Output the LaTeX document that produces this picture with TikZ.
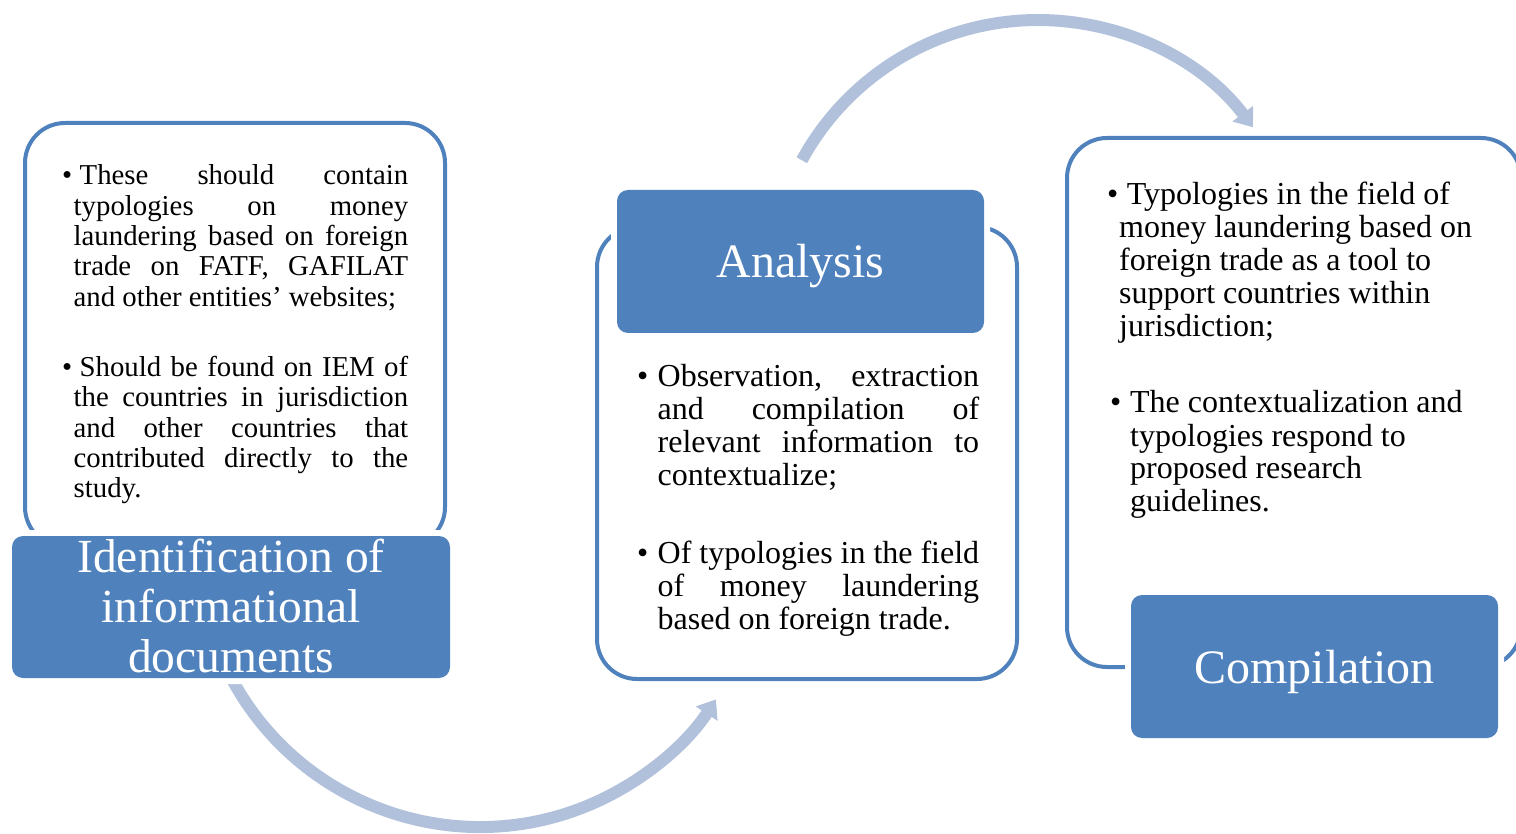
\documentclass[tikz,border=0pt]{standalone}
\usepackage{fontspec}
\setmainfont{Liberation Serif}
\usetikzlibrary{arrows.meta}
\definecolor{boxblue}{HTML}{4F81BD}
\definecolor{arrblue}{HTML}{B2C1DB}
\newcommand\mybullet[1]{\makebox[#1][l]{•}}
\begin{document}
\begin{tikzpicture}[x=1pt,y=-1pt,
  outbox/.style={draw=boxblue, line width=4pt, fill=white, rounded corners=40pt, inner sep=0pt},
  titlebox/.style={fill=boxblue, preaction={draw=white,line width=12pt}, rounded corners=11pt, inner sep=0pt},
  cyclearrow/.style={draw=arrblue, line width=12pt, -{Triangle[length=17pt,width=25pt]}},
  bodytext/.style={anchor=base west, inner sep=0pt, text=black},
  titletext/.style={anchor=base, inner sep=0pt, text=white}]
\useasboundingbox (0,0) rectangle (1516,834);
\clip (0,0) rectangle (1516,834);

% outline boxes
\node[outbox, minimum width=420pt, minimum height=424pt] (lout) at (235,335) {};
\node[outbox, minimum width=420pt, minimum height=452pt] (mout) at (807,453) {};
\node[outbox, minimum width=454pt, minimum height=529pt] (rout) at (1294,402.5) {};

% cycle arrows
\coordinate (cbot) at (480,545);
\coordinate (ctop) at (1038,289);
\draw[cyclearrow] (cbot) ++(155:282) arc[start angle=155, end angle=33.2, radius=282];
\draw[cyclearrow] (ctop) ++(208.6:269) arc[start angle=208.6, end angle=323.04, radius=269];

% title boxes
\node[titlebox, minimum width=438pt, minimum height=142pt] (ident) at (231,607) {};
\node[titlebox, minimum width=367pt, minimum height=143pt] (anal) at (800.5,261.5) {};
\node[titlebox, minimum width=367pt, minimum height=143pt] (comp) at (1314.5,666.5) {};

% title texts
\node[titletext] (identtxt) at (231,572) {\parbox[t]{430pt}{\centering\fontsize{47.5}{50}\selectfont Identification of\\ informational\\ documents}};
\node[titletext, font=\fontsize{48}{50}\selectfont] (analtxt) at (800.5,277.5) {Analysis};
\node[titletext, font=\fontsize{48}{50}\selectfont] (comptxt) at (1314.5,683.5) {Compilation};

% left body text
\node[bodytext] (l1) at (62,185) {\parbox[t]{346pt}{\fontsize{28.8}{30.3}\selectfont\hyphenpenalty=10000 \hangindent=11.5pt\hangafter=1\noindent\mybullet{17.5pt}These~should~contain\linebreak typologies~on~money\linebreak laundering~based~on~foreign\linebreak trade~on~FATF,~GAFILAT\linebreak and~other~entities’~websites;}};
\node[bodytext] (l2) at (62,376.5) {\parbox[t]{346pt}{\fontsize{28.8}{30.3}\selectfont\hyphenpenalty=10000 \hangindent=11.5pt\hangafter=1\noindent\mybullet{17.5pt}Should~be~found~on~IEM~of\linebreak the~countries~in~jurisdiction\linebreak and~other~countries~that\linebreak contributed~directly~to~the\linebreak study.}};

% middle body text
\node[bodytext] (m1) at (637,386.3) {\parbox[t]{342pt}{\fontsize{32}{33}\selectfont\hyphenpenalty=10000 \hangindent=20.5pt\hangafter=1\noindent\mybullet{20.5pt}Observation,~extraction\linebreak and~compilation~of\linebreak relevant~information~to\linebreak contextualize;}};
\node[bodytext] (m2) at (637,563.5) {\parbox[t]{342pt}{\fontsize{32}{33}\selectfont\hyphenpenalty=10000 \hangindent=20.5pt\hangafter=1\noindent\mybullet{20.5pt}Of~typologies~in~the~field\linebreak of~money~laundering\linebreak based~on~foreign~trade.}};

% right body text
\node[bodytext] (r1) at (1107,204.5) {\parbox[t]{400pt}{\fontsize{32}{33}\selectfont\raggedright\hyphenpenalty=10000 \hangindent=12pt\hangafter=1\noindent\mybullet{19.7pt}Typologies~in~the~field~of\newline money~laundering~based~on\newline foreign~trade~as~a~tool~to\newline support~countries~within\newline jurisdiction;}};
\node[bodytext] (r2) at (1110,413) {\parbox[t]{400pt}{\fontsize{32}{33}\selectfont\raggedright\hyphenpenalty=10000 \hangindent=20pt\hangafter=1\noindent\mybullet{20pt}The~contextualization~and\newline typologies~respond~to\newline proposed~research\newline guidelines.}};
\end{tikzpicture}
\end{document}
